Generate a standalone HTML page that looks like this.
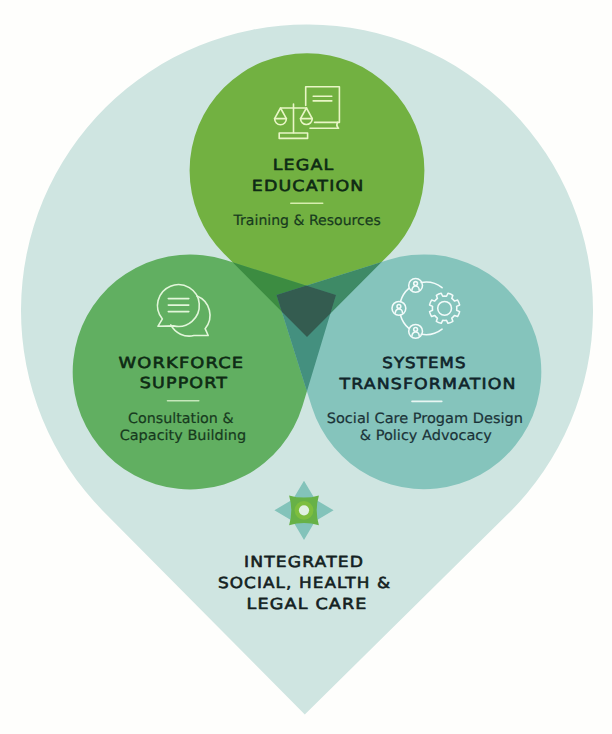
<!DOCTYPE html>
<html lang="en">
<head>
<meta charset="utf-8">
<title>Integrated Social, Health &amp; Legal Care</title>
<style>
html,body{margin:0;padding:0;background:#fefefc;}
body{width:612px;height:734px;overflow:hidden;font-family:"Liberation Sans",sans-serif;}
svg{display:block;}
</style>
</head>
<body>
<svg width="612" height="734" viewBox="0 0 612 734">
<defs>
<clipPath id="cT"><path d="M307.00 337.00L223.80 253.43A117.4 117.4 0 1 1 390.20 253.43Z"/></clipPath>
<clipPath id="cL"><path d="M336.00 295.00L302.48 405.95A117.4 117.4 0 1 1 225.49 260.06Z"/></clipPath>
</defs>
<rect width="612" height="734" fill="#fefefc"/>
<path d="M304.80 714.40L103.95 511.91A286 286 0 1 1 507.85 514.11Z" fill="#cfe5e1"/>
<path d="M307.00 337.00L223.80 253.43A117.4 117.4 0 1 1 390.20 253.43Z" fill="#72b141"/>
<path d="M336.00 295.00L302.48 405.95A117.4 117.4 0 1 1 225.49 260.06Z" fill="#61af61"/>
<path d="M276.50 295.00L388.76 259.78A117.4 117.4 0 1 1 311.96 407.18Z" fill="#85c4bc"/>
<path d="M336.00 295.00L302.48 405.95A117.4 117.4 0 1 1 225.49 260.06Z" fill="#3c8c41" clip-path="url(#cT)"/>
<path d="M276.50 295.00L388.76 259.78A117.4 117.4 0 1 1 311.96 407.18Z" fill="#3e8a66" clip-path="url(#cT)"/>
<path d="M276.50 295.00L388.76 259.78A117.4 117.4 0 1 1 311.96 407.18Z" fill="#44907f" clip-path="url(#cL)"/>
<g clip-path="url(#cT)"><path d="M276.50 295.00L388.76 259.78A117.4 117.4 0 1 1 311.96 407.18Z" fill="#345c50" clip-path="url(#cL)"/></g>
<g stroke-linecap="round">
<line x1="290.8" y1="203.2" x2="322.7" y2="203.2" stroke="#d6eeae" stroke-width="1.6"/>
<line x1="167.5" y1="400.8" x2="198.8" y2="400.8" stroke="#c6e8bb" stroke-width="1.6"/>
<line x1="412" y1="401.4" x2="441.8" y2="401.4" stroke="#e9f6f3" stroke-width="1.6"/>
</g>
<g>
<path d="M304.00 480.70L315.03 499.27L333.60 510.30L315.03 521.33L304.00 539.90L292.97 521.33L274.40 510.30L292.97 499.27Z" fill="#83c3ba"/>
<path d="M289.1 495.40Q304 499.8 318.9 495.40Q314.5 510.3 318.9 525.2Q304 520.80 289.1 525.2Q293.5 510.3 289.1 495.40Z" fill="#67b147"/>
<circle cx="304" cy="510.3" r="9.4" fill="#7dbe3f"/>
<circle cx="304" cy="510.3" r="5.1" fill="#e0f1e2"/>
</g>
<g fill="none" stroke="#e9f6c6" stroke-width="1.6" stroke-linejoin="round" stroke-linecap="round">
<path d="M305.7 105.5V86.8H339.4V122.4H314.6"/>
<path d="M310 128.2H338.6"/>
<path d="M337.6 122.4q-1.8 2.9 0.6 5.8"/>
<path d="M313.2 96.3H331.8M313.2 100.9H331.8"/>
<path d="M293.5 104V132.8"/>
<path d="M280.6 108H306.6"/>
<rect x="279.2" y="133" width="28.4" height="5.4"/>
<path d="M280.5 108L274.6 118.6H286.4Z"/>
<path d="M274.6 118.6A5.9 6.2 0 0 0 286.4 118.6"/>
<path d="M306.4 108L300.5 118.6H312.29Z"/>
<path d="M300.5 118.6A5.9 6.2 0 0 0 312.29 118.6"/>
</g>
<g fill="none" stroke="#e2f6da" stroke-width="1.6" stroke-linejoin="round" stroke-linecap="round">
<path d="M162.39 318.93A20.9 20.9 0 1 1 173.70 325.86L157.90 326.30Z"/>
<path d="M168.3 298.6H188.8"/>
<path d="M168.3 305.1H188.8"/>
<path d="M168.3 311.6H188.8"/>
<path d="M197.03 296.03A20.8 20.8 0 0 1 205.13 328.67L208.20 335.50L193.88 335.57A20.8 20.8 0 0 1 170.78 324.96"/>
</g>
<g fill="none" stroke="#f2fbfa" stroke-width="1.55" stroke-linejoin="round" stroke-linecap="round">
<path d="M442.09 329.12A26.3 26.3 0 0 1 421.19 334.27"/>
<path d="M408.83 328.41A26.3 26.3 0 0 1 400.51 315.24"/>
<path d="M400.51 301.56A26.3 26.3 0 0 1 408.83 288.39"/>
<path d="M421.19 282.53A26.3 26.3 0 0 1 442.09 287.68"/>
<circle cx="415.60" cy="285.40" r="6.9"/>
<circle cx="415.60" cy="283.50" r="1.9"/>
<path d="M412.00 290.00A3.6 3.9 0 0 1 419.20 290.00"/>
<circle cx="398.90" cy="308.30" r="6.9"/>
<circle cx="398.90" cy="306.40" r="1.9"/>
<path d="M395.30 312.90A3.6 3.9 0 0 1 402.50 312.90"/>
<circle cx="415.60" cy="331.30" r="6.9"/>
<circle cx="415.60" cy="329.40" r="1.9"/>
<path d="M412.00 335.90A3.6 3.9 0 0 1 419.20 335.90"/>
<path d="M456.46 305.45L459.77 305.65A15.4 15.4 0 0 1 459.77 310.95L456.46 311.15A12.2 12.2 0 0 1 455.00 314.67L457.20 317.16A15.4 15.4 0 0 1 453.46 320.90L450.97 318.70A12.2 12.2 0 0 1 447.45 320.16L447.25 323.47A15.4 15.4 0 0 1 441.95 323.47L441.75 320.16A12.2 12.2 0 0 1 438.23 318.70L435.74 320.90A15.4 15.4 0 0 1 432.00 317.16L434.20 314.67A12.2 12.2 0 0 1 432.74 311.15L429.43 310.95A15.4 15.4 0 0 1 429.43 305.65L432.74 305.45A12.2 12.2 0 0 1 434.20 301.93L432.00 299.44A15.4 15.4 0 0 1 435.74 295.70L438.23 297.90A12.2 12.2 0 0 1 441.75 296.44L441.95 293.13A15.4 15.4 0 0 1 447.25 293.13L447.45 296.44A12.2 12.2 0 0 1 450.97 297.90L453.46 295.70A15.4 15.4 0 0 1 457.20 299.44L455.00 301.93A12.2 12.2 0 0 1 456.46 305.45Z" transform="rotate(22.5 444.6 308.3)"/>
<circle cx="444.6" cy="308.3" r="6.9"/>
</g>
<text transform='translate(272.70 169.90) scale(1.1515 1)' font-family="'DejaVu Sans','Liberation Sans',sans-serif" font-size='15.2' font-weight='normal' letter-spacing='1.0' fill='#0e2a14' stroke='#0e2a14' stroke-width='0.6' stroke-linejoin='round' text-rendering='geometricPrecision'>LEGAL</text>
<text transform='translate(251.75 191.20) scale(1.1466 1)' font-family="'DejaVu Sans','Liberation Sans',sans-serif" font-size='15.2' font-weight='normal' letter-spacing='1.0' fill='#0e2a14' stroke='#0e2a14' stroke-width='0.6' stroke-linejoin='round' text-rendering='geometricPrecision'>EDUCATION</text>
<text transform='translate(233.55 225.40) scale(0.9914 1)' font-family="'DejaVu Sans','Liberation Sans',sans-serif" font-size='14.2' font-weight='normal' letter-spacing='0.0' fill='#173a1e' stroke='#173a1e' stroke-width='0.2' stroke-linejoin='round' text-rendering='geometricPrecision'>Training &amp; Resources</text>
<text transform='translate(118.55 368.00) scale(1.1732 1)' font-family="'DejaVu Sans','Liberation Sans',sans-serif" font-size='15.2' font-weight='normal' letter-spacing='1.0' fill='#0e2a14' stroke='#0e2a14' stroke-width='0.6' stroke-linejoin='round' text-rendering='geometricPrecision'>WORKFORCE</text>
<text transform='translate(139.75 387.70) scale(1.1509 1)' font-family="'DejaVu Sans','Liberation Sans',sans-serif" font-size='15.2' font-weight='normal' letter-spacing='1.0' fill='#0e2a14' stroke='#0e2a14' stroke-width='0.6' stroke-linejoin='round' text-rendering='geometricPrecision'>SUPPORT</text>
<text transform='translate(128.05 423.30) scale(1.0056 1)' font-family="'DejaVu Sans','Liberation Sans',sans-serif" font-size='14.2' font-weight='normal' letter-spacing='0.0' fill='#173a1e' stroke='#173a1e' stroke-width='0.2' stroke-linejoin='round' text-rendering='geometricPrecision'>Consultation &amp;</text>
<text transform='translate(119.65 440.00) scale(1.0189 1)' font-family="'DejaVu Sans','Liberation Sans',sans-serif" font-size='14.2' font-weight='normal' letter-spacing='0.0' fill='#173a1e' stroke='#173a1e' stroke-width='0.2' stroke-linejoin='round' text-rendering='geometricPrecision'>Capacity Building</text>
<text transform='translate(382.25 368.00) scale(1.0930 1)' font-family="'DejaVu Sans','Liberation Sans',sans-serif" font-size='15.2' font-weight='normal' letter-spacing='1.0' fill='#10242a' stroke='#10242a' stroke-width='0.6' stroke-linejoin='round' text-rendering='geometricPrecision'>SYSTEMS</text>
<text transform='translate(339.50 388.50) scale(1.1415 1)' font-family="'DejaVu Sans','Liberation Sans',sans-serif" font-size='15.2' font-weight='normal' letter-spacing='1.0' fill='#10242a' stroke='#10242a' stroke-width='0.6' stroke-linejoin='round' text-rendering='geometricPrecision'>TRANSFORMATION</text>
<text transform='translate(326.75 423.40) scale(1.0248 1)' font-family="'DejaVu Sans','Liberation Sans',sans-serif" font-size='14.2' font-weight='normal' letter-spacing='0.0' fill='#1b3338' stroke='#1b3338' stroke-width='0.2' stroke-linejoin='round' text-rendering='geometricPrecision'>Social Care Progam Design</text>
<text transform='translate(359.75 440.20) scale(1.0235 1)' font-family="'DejaVu Sans','Liberation Sans',sans-serif" font-size='14.2' font-weight='normal' letter-spacing='0.0' fill='#1b3338' stroke='#1b3338' stroke-width='0.2' stroke-linejoin='round' text-rendering='geometricPrecision'>&amp; Policy Advocacy</text>
<text transform='translate(244.10 566.80) scale(1.1296 1)' font-family="'DejaVu Sans','Liberation Sans',sans-serif" font-size='15.2' font-weight='normal' letter-spacing='1.0' fill='#141f22' stroke='#141f22' stroke-width='0.6' stroke-linejoin='round' text-rendering='geometricPrecision'>INTEGRATED</text>
<text transform='translate(217.90 588.00) scale(1.1080 1)' font-family="'DejaVu Sans','Liberation Sans',sans-serif" font-size='15.2' font-weight='normal' letter-spacing='1.0' fill='#141f22' stroke='#141f22' stroke-width='0.6' stroke-linejoin='round' text-rendering='geometricPrecision'>SOCIAL, HEALTH &amp;</text>
<text transform='translate(246.50 608.60) scale(1.1576 1)' font-family="'DejaVu Sans','Liberation Sans',sans-serif" font-size='15.2' font-weight='normal' letter-spacing='1.0' fill='#141f22' stroke='#141f22' stroke-width='0.6' stroke-linejoin='round' text-rendering='geometricPrecision'>LEGAL CARE</text>
</svg>
</body>
</html>
